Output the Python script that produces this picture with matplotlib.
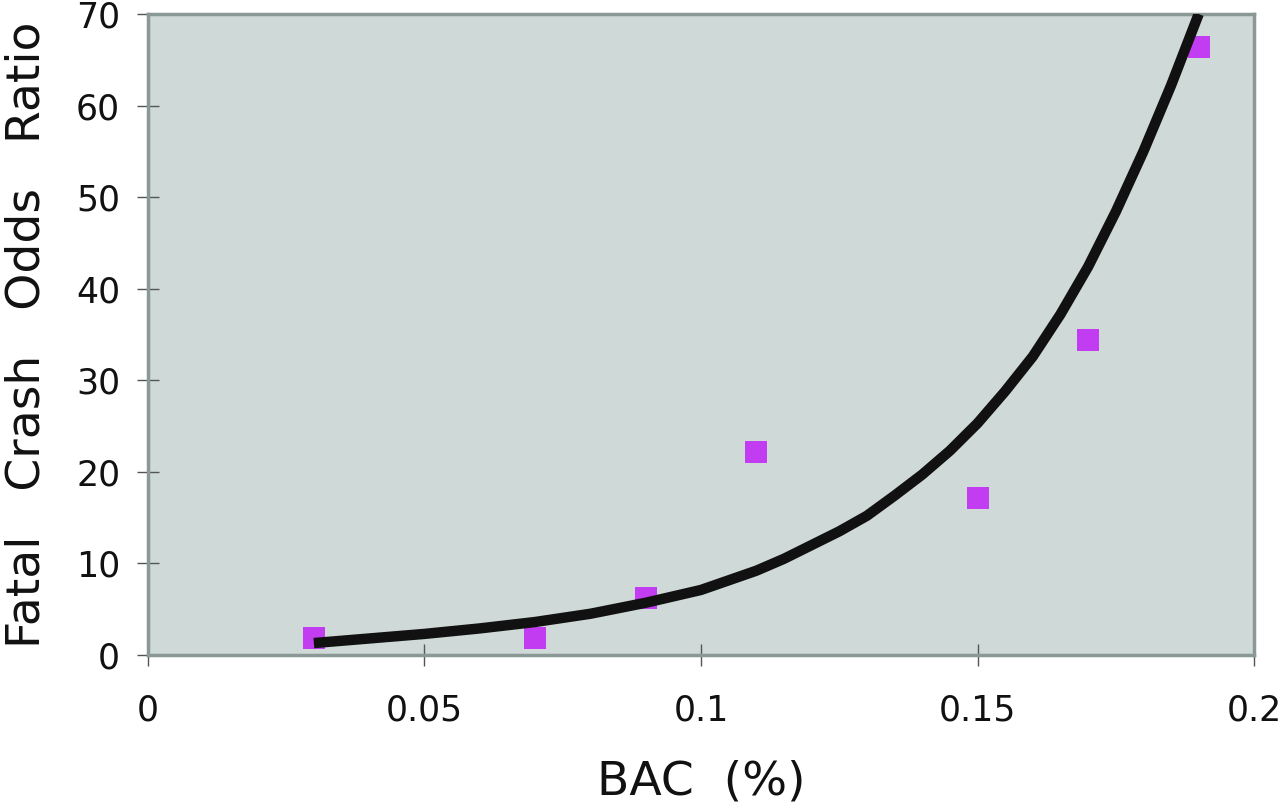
import matplotlib
matplotlib.use("Agg")
import matplotlib.pyplot as plt

# observed data points
bac = [0.03, 0.07, 0.09, 0.11, 0.15, 0.17, 0.19]
odds = [1.9, 1.9, 6.2, 22.2, 17.1, 34.4, 66.4]

# trend curve
curve_x = [0.03, 0.04, 0.05, 0.06, 0.07, 0.08, 0.09, 0.10, 0.11, 0.115, 0.12, 0.125, 0.13,
           0.135, 0.14, 0.145, 0.15, 0.155, 0.16, 0.165, 0.17, 0.175, 0.18, 0.185, 0.19]
curve_y = [1.3, 1.8, 2.3, 2.9, 3.6, 4.5, 5.7, 7.1, 9.2, 10.5, 12.0, 13.5, 15.2,
           17.4, 19.7, 22.3, 25.3, 28.8, 32.6, 37.2, 42.4, 48.4, 55.0, 62.2, 70.0]

x_ticks = [0, 0.05, 0.1, 0.15, 0.2]
x_ticklabels = ["0", "0.05", "0.1", "0.15", "0.2"]
y_ticks = [0, 10, 20, 30, 40, 50, 60, 70]

fig = plt.figure(figsize=(12.8, 8.09), dpi=100)
ax = fig.add_axes([0.1156, 0.1904, 0.8641, 0.7923])
ax.set_facecolor("#cfd9d7")

ax.plot(curve_x, curve_y, color="#111111", lw=7.5, solid_capstyle="butt",
        solid_joinstyle="round", zorder=3)
ax.plot(bac, odds, linestyle="none", marker="s", markersize=16,
        color="#c23cf2", markeredgewidth=0, zorder=2)

ax.set_xlim(0, 0.2)
ax.set_ylim(0, 70)
ax.set_xticks(x_ticks)
ax.set_xticklabels(x_ticklabels)
ax.set_yticks(y_ticks)

ax.tick_params(axis="both", direction="inout", length=16, width=1, color="#555555",
               labelsize=25, labelcolor="#111111")
ax.tick_params(axis="x", pad=20)
ax.tick_params(axis="y", pad=12)

for s in ax.spines.values():
    s.set_color("#8a9896")
    s.set_linewidth(2.5)

ax.set_xlabel("BAC  (%)", fontsize=34, labelpad=23, color="#111111")
ax.set_ylabel("Fatal   Crash   Odds   Ratio", fontsize=34, labelpad=19, color="#111111")

fig.savefig("out.png", dpi=100, facecolor="white")
